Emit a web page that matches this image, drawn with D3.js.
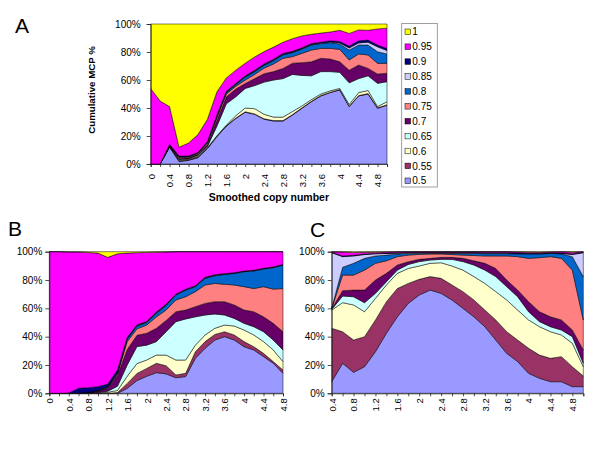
<!DOCTYPE html>
<html>
<head>
<meta charset="utf-8">
<script src="https://cdn.jsdelivr.net/npm/d3@7"></script>
<style>
  body { margin: 0; background: #fff; }
  svg { display: block; font-family: Arial, "Liberation Sans", sans-serif; }
</style>
</head>
<body>
<svg id="chart" width="600" height="450"></svg>
<script>
// series (threshold values), bottom to top of the stack
const seriesNames = ["0.5", "0.55", "0.6", "0.65", "0.7", "0.75", "0.8", "0.85", "0.9", "0.95", "1"];
const seriesColors = ["#9999FF", "#993366", "#FFFFCC", "#CCFFFF", "#660066", "#FF8080",
                      "#0066CC", "#CCCCFF", "#000080", "#FF00FF", "#FFFF00"];

// smoothed copy number categories
const catsA = ["0","0.2","0.4","0.6","0.8","1","1.2","1.4","1.6","1.8","2","2.2","2.4",
               "2.6","2.8","3","3.2","3.4","3.6","3.8","4","4.2","4.4","4.6","4.8","5"];
const catsB = ["0","0.2","0.4","0.6","0.8","1","1.2","1.4","1.6","1.8","2","2.2","2.4",
               "2.6","2.8","3","3.2","3.4","3.6","3.8","4","4.2","4.4","4.6","4.8"];
const catsC = ["0.4","0.6","0.8","1","1.2","1.4","1.6","1.8","2","2.2","2.4","2.6","2.8",
               "3","3.2","3.4","3.6","3.8","4","4.2","4.4","4.6","4.8","5"];

// labelled ticks (every other category)
const tickLabelsA = ["0","0.4","0.8","1.2","1.6","2","2.4","2.8","3.2","3.6","4","4.4","4.8"];
const tickLabelsB = tickLabelsA;
const tickLabelsC = ["0.4","0.8","1.2","1.6","2","2.4","2.8","3.2","3.6","4","4.4","4.8"];
const yTicks = [0, 0.2, 0.4, 0.6, 0.8, 1];

// MCP % per series, one row per series (same order as seriesNames)
const valuesA = [
  [0,0,12,1.7,2.6,4.5,11,19.5,27,32.5,37,35.5,32,30.7,30.7,35,39.8,44.5,48.6,51,52.9,41,48.6,50,39.8,42],
  [0,0,0.3,0.5,0.4,0.5,0.3,0.3,0.3,0.3,0.3,0.3,0.3,0.3,0.3,0.3,0.3,0.3,0.3,0.3,0.3,0.3,0.3,0.3,0.3,0.3],
  [0,0,0.3,0.5,0.4,0.5,0.4,0.4,0.5,1.7,2.7,3.7,3.2,2.5,2.5,2.2,1.4,1.2,1.1,1,0.8,1.2,2.1,2.2,0.9,2.2],
  [0,0,0.3,0.5,0.4,0.7,0.8,6.8,15.2,13.5,14,16.5,23,26.5,27.5,26.5,21.8,17,16,13.7,11.5,15.5,10,10.5,16.6,14.3],
  [0,0,0.3,0.8,0.6,0.7,1.5,4,5,5.5,3.5,5,6,6,7.3,8,9.1,10,9.5,9,7.5,9,9.7,5.3,6.7,6],
  [0,0,0.3,0.8,0.6,0.6,1,2,2,2,2.5,3,4,5.5,7.2,4.7,6.6,8.4,7.1,7.6,8.9,7.3,7.9,9.6,7.6,7.1],
  [0,0,0.2,0.3,0.2,0.3,0.5,1,1,1,2,2,2,2.3,2.5,2.8,3,3.6,3.4,4.1,3.8,7.1,6.4,7.1,8.3,6.7],
  [0,0,0.1,0.2,0.2,0.2,0.2,0.3,0.3,0.3,0.3,0.3,0.3,0.3,0.3,0.3,0.3,0.3,0.4,0.5,0.8,1.5,1.5,2,3.5,2.5],
  [0,0,0.2,0.4,0.3,0.3,0.3,0.7,0.7,0.7,0.7,0.7,0.7,0.7,0.7,0.7,0.7,0.7,0.6,0.8,1,1.4,1.5,1.5,1.3,1.4],
  [54,45,27,6.3,9.3,12.7,16,16.5,9.5,9.5,9,9.5,8.8,8.7,8,9,8.5,6.7,6.5,6.3,8,9,7.8,7,11.5,14.5],
  [46,55,59,88,85,79,68,48.5,38.5,33,28,23.5,19.7,16.5,13,10.5,8.5,7.3,6.5,5.7,4.5,6.7,4.2,4.5,3.5,3]
];

const valuesB = [
  [0,0,0,0,0,0,0,0,3.5,9,12,14.6,13.7,11,11.8,24.7,31.8,37.6,40,37.6,32.9,30.6,25.9,21.2,14.1],
  [0,0,0,0,0,0,0,0.5,3.5,5,5.6,6.6,5.8,2,2.3,4.7,4.7,4,3.5,3.6,3.6,2.3,2.3,1.2,2.4],
  [0,0,0,0,0,0.3,0.7,1.5,5,7,5.9,5.8,7.5,10.5,9.4,4.6,4.7,4.3,4.7,6.3,8.2,8.3,8.3,8.2,5.9],
  [0,0,0,0,0.2,0.3,0.8,3,8,12,10.5,9.5,16.5,27.1,29,20,14.1,10.1,7.1,5.4,4.7,5.8,7,7,8.2],
  [0,0,0,0.2,0.3,0.9,2,8,11,8,8.4,9.4,8,7,6.3,7.2,8.2,8.7,9.4,9.5,9.4,10.6,10.5,11.8,12.9],
  [0,0,0,0,0,0.2,0.5,1,5.5,4.5,5.8,8.1,7.3,8.3,9.4,10.6,13,12.9,12.3,14.1,16.5,16.4,21.3,24.2,30.5],
  [0,0,0,0,0,0.1,0.3,0.5,1.8,2,1.7,2.5,3.2,3.5,4.7,3.5,4.7,5.4,7,8.2,10.6,12.4,12.5,15.1,16.6],
  [0,0,0,0,0,0.1,0.2,0.2,0.3,0.3,0.3,0.3,0.3,0.3,0.3,0.3,0.3,0.3,0.2,0.2,0.2,0.2,0.2,0.2,0.2],
  [0,0,0.2,3.3,3.5,2.8,2,1.8,0.9,0.5,0.6,0.7,0.7,0.3,0.3,0.4,0.5,0.4,0.3,0.3,0.3,0.3,0.3,0.3,0.2],
  [100,100,99.6,96.3,95.5,94.3,89.5,82,59.5,51,48.7,42.2,36.8,30,26.5,24,18,16.3,15.5,14.8,13.6,13.1,11.7,10.8,9],
  [0,0,0.2,0.2,0.5,1,4,1.5,1,0.7,0.5,0.3,0.2,0,0,0,0,0,0,0,0,0,0,0,0]
];

const valuesC = [
  [8.2,21.2,14.8,18.8,29.4,42.4,54,63.5,69.4,72.9,70.6,65.9,60,54,47,37.6,28.2,22.4,14.1,10.6,8.2,8.2,4.7,4.7],
  [37.7,22.3,22.8,21.2,22.4,22.3,20,14.1,11.1,9.5,10.6,10.6,11.8,11.9,11.8,14.2,15.3,15.2,17.7,16.4,16.5,17.7,14.1,7.5],
  [12.9,20.5,24.8,17.6,15.2,11.8,10.7,10.6,9.4,9.4,11,13.4,15.2,16.5,18.8,20,22.4,21.2,20,20,18.8,15.3,16.5,6.6],
  [0.5,4.7,5.8,6.4,3.6,2.3,2.3,2.8,3.1,2.3,2.4,4.7,6,8.2,9.4,10.6,9.4,9.4,5.8,3.6,3.5,3.5,4.7,2.4],
  [0.5,3.8,4.7,8.9,9.4,5.9,3.6,1.9,1.6,1.2,1.4,1.4,2.3,3,4.8,5.8,4.7,4.7,7.1,7,7,7.1,4.7,9.4],
  [0.2,11,10.6,14.1,11.8,8.9,5.9,4.7,3.5,3.1,2.4,2,2.3,3.7,5.2,8.8,17,23.6,30.6,38.2,42.5,43.5,42.3,21.2],
  [0.2,5.5,8.3,8.3,5.2,4,1.9,1.2,0.7,0.5,0.5,0.8,1.2,1.5,1.6,1.6,1.6,2,3.1,2.6,2.3,3.2,9.5,30.6],
  [39.1,7.5,5.2,2.7,1.5,1.2,0.6,0.4,0.4,0.3,0.3,0.3,0.3,0.3,0.4,0.4,0.4,0.3,0.3,0.3,0.2,0.3,1.5,16.9],
  [0.3,0.5,0.5,0.3,0.3,0.2,0.2,0.2,0.2,0.2,0.2,0.3,0.3,0.3,0.3,0.3,0.3,0.2,0.2,0.2,0.2,0.2,0.5,0.3],
  [0.3,2.8,2,1.3,0.9,0.8,0.7,0.6,0.6,0.6,0.6,0.6,0.6,0.6,0.7,0.7,0.7,0.8,0.8,0.7,0.6,0.9,1.2,0.3],
  [0.1,0.2,0.5,0.4,0.3,0.2,0.1,0,0,0,0,0,0,0,0,0,0,0.2,0.3,0.4,0.2,0.1,0.3,0.1]
];

const svg = d3.select("#chart");

const drawPanel = (svg, cats, values, tickLabels, box) => {
  const x = d3.scalePoint().domain(cats).range([box.x0, box.x1]);
  const y = d3.scaleLinear().domain([0, 1]).range([box.y1, box.y0]);

  // one row per category, keyed by series name
  const rows = cats.map((c, i) => {
    const r = { cat: c };
    seriesNames.forEach((k, j) => (r[k] = values[j][i]));
    return r;
  });

  // 100% stacked, like the original spreadsheet chart
  const stacked = d3.stack().keys(seriesNames).offset(d3.stackOffsetExpand)(rows);

  const area = d3
    .area()
    .x((d) => x(d.data.cat))
    .y0((d) => y(d[0]))
    .y1((d) => y(d[1]));

  svg
    .append("g")
    .selectAll("path")
    .data(stacked)
    .join("path")
    .attr("d", area)
    .attr("fill", (d, i) => seriesColors[i])
    .attr("stroke", "#000")
    .attr("stroke-width", 0.5)
    .attr("stroke-linejoin", "round");

  // y axis
  const yAxis = svg
    .append("g")
    .attr("transform", `translate(${box.x0},0)`)
    .call(
      d3.axisLeft(y)
        .tickValues(yTicks)
        .tickFormat(d3.format(".0%"))
        .tickSize(4)
        .tickPadding(box.yPad)
    );

  // x axis, labels on every other category, rotated
  const xAxis = svg
    .append("g")
    .attr("transform", `translate(0,${box.y1})`)
    .call(
      d3.axisBottom(x)
        .tickSize(3)
        .tickFormat((d) => (tickLabels.includes(d) ? d : ""))
    );
  xAxis
    .selectAll("text")
    .attr("transform", "rotate(-90)")
    .attr("text-anchor", "end")
    .attr("x", -box.xPad)
    .attr("y", 0)
    .attr("dy", "0.35em")
    .style("font-size", "9.5px");

  [xAxis, yAxis].forEach((g) => {
    g.selectAll(".domain").attr("stroke", "#222").attr("stroke-width", 0.8);
    g.selectAll(".tick line").attr("stroke", "#222").attr("stroke-width", 0.8);
    g.selectAll("text").attr("fill", "#000").style("font-family", "Arial, 'Liberation Sans', sans-serif");
  });
  yAxis.selectAll("text").style("font-size", "10px");
};

drawPanel(svg, catsA, valuesA, tickLabelsA, { x0: 150.7, x1: 387, y0: 24, y1: 164, yPad: 6, xPad: 10 });
drawPanel(svg, catsB, valuesB, tickLabelsB, { x0: 49.3, x1: 283, y0: 251.7, y1: 393.3, yPad: 3, xPad: 5 });
drawPanel(svg, catsC, valuesC, tickLabelsC, { x0: 331.7, x1: 583.3, y0: 251.7, y1: 393.3, yPad: 3, xPad: 5 });

// axis titles for panel A
svg
  .append("text")
  .attr("x", 268.9)
  .attr("y", 200.5)
  .attr("text-anchor", "middle")
  .style("font-size", "10.5px")
  .style("font-weight", "bold")
  .text("Smoothed copy number");

svg
  .append("text")
  .attr("transform", "translate(95,90) rotate(-90)")
  .attr("text-anchor", "middle")
  .style("font-size", "9.7px")
  .style("font-weight", "bold")
  .text("Cumulative MCP %");

// panel letters
[["A", 15, 33.3], ["B", 8, 236], ["C", 310, 237]].forEach(([t, px, py]) => {
  svg.append("text").attr("x", px).attr("y", py).style("font-size", "21px").text(t);
});

// legend for panel A, top entry is the last series
const legend = svg.append("g");
legend
  .append("rect")
  .attr("x", 401.7)
  .attr("y", 23.5)
  .attr("width", 35.6)
  .attr("height", 163.5)
  .attr("fill", "#fff")
  .attr("stroke", "#888")
  .attr("stroke-width", 0.8);

const legendItems = seriesNames.map((n, i) => ({ name: n, color: seriesColors[i] })).reverse();
legendItems.forEach((d, k) => {
  const cy = 31.8 + k * 14.9;
  legend
    .append("rect")
    .attr("x", 405)
    .attr("y", cy - 2.8)
    .attr("width", 5.6)
    .attr("height", 5.6)
    .attr("fill", d.color)
    .attr("stroke", "#000")
    .attr("stroke-width", 0.5);
  legend
    .append("text")
    .attr("x", 412.3)
    .attr("y", cy + 3.6)
    .style("font-size", "10px")
    .text(d.name);
});
</script>
</body>
</html>
